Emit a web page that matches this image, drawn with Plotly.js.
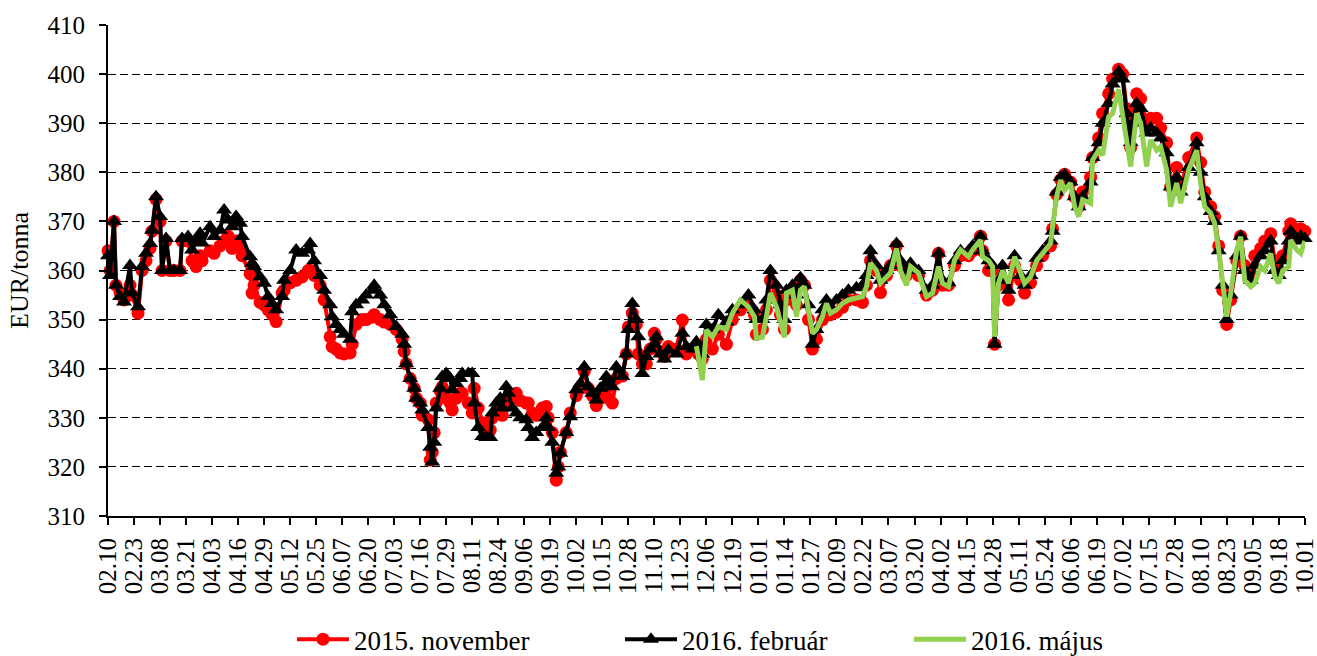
<!DOCTYPE html>
<html>
<head>
<meta charset="utf-8">
<script src="https://cdn.plot.ly/plotly-3.0.1.min.js"></script>
<style>html,body{margin:0;padding:0;background:#fff;}#chart{width:1317px;height:656px;}</style>
</head>
<body>
<div id="chart"></div>
<script>
// Start of the series (first trading day shown on the axis)
const startDate = '2014-02-10';

// Observation days, counted from startDate (shared by the 2015. november and 2016. február contracts)
const obsDays = [0,1,3,4,6,8,11,12,15,17,19,21,22,24,26,27,29,31,33,36,37,40,42,44,46,47,51,53,56,58,60,62,64,66,67,71,72,73,76,78,80,82,84,87,88,91,94,97,100,101,103,106,108,111,112,114,116,118,121,122,124,127,129,132,133,136,138,141,144,147,148,149,151,153,154,156,157,160,161,162,163,164,166,167,169,171,172,174,176,177,180,182,183,185,187,189,191,192,194,196,197,199,200,202,204,206,209,210,212,214,217,219,220,222,224,225,226,229,231,234,236,238,240,242,244,246,249,250,252,254,257,259,260,262,264,265,267,269,271,273,274,276,278,280,284,287,289,292,294,295,297,299,302,305,309,312,316,320,323,324,327,329,331,334,336,338,339,342,344,346,348,350,352,354,357,359,361,364,367,370,374,377,379,381,384,386,389,391,394,396,399,401,405,409,412,415,417,420,423,426,430,432,436,437,440,442,443,445,447,450,453,456,458,461,464,467,471,472,474,476,478,481,483,485,487,491,492,495,497,500,502,505,507,509,511,512,514,516,519,521,524,526,529,531,534,536,540,544,546,548,551,553,555,557,559,561,564,566,568,571,573,576,578,581,583,585,587,590,591,594,596,598];

// 2016. február contract (EUR/tonna)
const feb2016 = [363,359,370,357,354.7,353.6,361,355.4,352.6,360.8,363.5,365.5,368.2,375,371,360,366.5,360,360,360,366.5,366.9,364.2,366,367.6,365.6,368.9,366.9,368.2,372.3,370.3,368.9,371,369.6,366.9,362.8,361.5,360.8,358.7,357.4,354.7,353.3,352,354.7,358,360,364.2,363.5,364.2,365.5,362,359,356,353,350.6,349,348,347,346,351.6,353,354,355,356,357,355,353,351,348.6,347,345,341,338,336,334,333,331.6,328,324,321,325,332,336,338.4,339,338,335.7,337,338,339,339,339,333,328,326.2,326,326,331,333,334,332,336.4,335,332,331,330,329.6,328,326,327,328,330,328,325,318.7,320,322.8,327,330.2,335.7,337,340.4,336.3,335,333.6,336,338.4,337,336.3,340.4,338.4,343,348,353.3,350,346.5,339,342.5,344,345,346.5,343,342,343.8,343,347.2,344.5,344,345.5,344,343,349,348,351,349.5,352,353,355,352,350,350,354,360,357,353,350,356,357,355,358.5,357,353,345,348,352,354,352.5,354,355,356,356.5,357,359,364,361,358,360,361,365.5,362,360,361.5,360,356,357,363.5,358,357.5,362,364,364,365,367,364,362,361,345,358,361,356,363,359,357,359,362.5,364,366,368,376,379,379.5,378,375,373,375,378,383,386,390,394,398,400.5,399,392,386,390,394,393,388,389,388,387,384,377,379,376,381,386,380,375,372,370,364,357,350,355,363,367,360,358,361,363,364,366,360,359,362,366,368,366,367,366.5];

// 2015. november contract (EUR/tonna)
const nov2015 = [364,360,370,357,355.5,354,357,355,351.3,360,362,364.5,368,374.5,370,360,366,360,360,360,366,366,362,360.8,363,362,364,363.5,365,366,367,364.5,366,365,363,359.3,355.4,357,353.5,353,352,351,349.6,355.4,356,357.5,358,358.7,360,360,359,357,354,346.5,344.5,344,343.2,343,343.2,345,349,350,350,350.5,351,350,349.5,349,348,346,343.5,341,338,336,334,333,330.5,329.6,321.4,323,327,333,335.5,336.3,334,333,331.6,334,335,335,333,331,336,332,329,328,327.5,330,331,331,330.5,333,334,334,335,333.5,333,333,331,330.5,332,332.3,330,327,317.3,320,323,327,331,334.5,336,339.5,336,334.5,332.5,334,336,334,333,338,338.5,343,348.5,351.3,349,343,341,341,344,347.2,346,343.5,342.5,344.5,344,349.9,343,344,344,343,342,346,344,347,345,350,352,353,351,347,348,352,358,355,351,348,354,355,353,358,357,350,344,346,350,352,351,351.5,352.5,354,354,353.5,357,362,360,355.5,359,361,365,361,359,360,359,355,356,363.5,357,357,361,363,363,364,367,364,360,360,345,357,358,354,361,358,355.4,357.5,361,363,365,368.5,375.5,378.5,379.6,378,375,373,376,379,383,387,392,396,399,401,400,393,385,392,396,395,390,391,391,389,386,377,381,377,383,387,382,376,373,371,365,356,349,354,362,367,361,359.5,363,364.5,366,367.5,362,360,363,368,369.5,367,368.5,368];

// Observation days of the 2016. május contract, counted from startDate
const mayDays = [294,295,297,299,302,305,309,312,316,320,323,324,327,329,331,334,336,338,339,342,344,346,348,350,352,354,357,359,361,364,367,370,374,377,379,381,384,386,389,391,394,396,399,401,405,409,412,415,417,420,423,426,430,432,436,437,440,442,443,445,447,450,453,456,458,461,464,467,471,472,474,476,478,481,483,485,487,491,492,495,497,500,502,505,507,511,514,516,519,521,524,526,529,531,534,536,540,544,546,548,551,553,555,557,559,561,564,566,568,571,573,576,578,581,583,585,587,590,591,594,596,598];

// 2016. május contract (EUR/tonna)
const may2016 = [344.6,342,337.7,347.9,346.5,348.6,348,351.3,354,352.6,350.6,346.2,346.4,350.6,355.4,352.6,349.3,346.4,355.4,356,350.6,356,356.7,351.3,347.2,348,350.6,353.3,351.3,352,353.3,354,354.3,354.7,356.7,361.5,360,357.4,358.7,359.5,364.5,360,357,360.8,359.5,354.7,355.4,360.8,357.4,356.7,362.1,364.2,362.8,364.2,366.2,362.8,362,360.8,346.5,357.4,360,357.4,362.8,359.5,357.4,358.7,362,363.5,365.5,369,375,378.4,376.4,377.8,373,371,374.4,373.7,382.5,384.5,383.5,391.3,392,396.9,391.3,381.2,392,390,381.2,386.6,384.5,385.2,380.5,373,377.8,373.7,380.5,384.5,377.8,373,371.7,369.6,364.2,357.4,350.6,355.4,364.2,366.9,358,356.7,357.4,360.8,360,363.5,358.7,357.4,360,360.8,366.2,364.2,363.5,366];

// Axis tick labels (every 13 days from startDate)
const tickLabels = ['02.10','02.23','03.08','03.21','04.03','04.16','04.29','05.12','05.25','06.07','06.20','07.03','07.16','07.29','08.11','08.24','09.06','09.19','10.02','10.15','10.28','11.10','11.23','12.06','12.19','01.01','01.14','01.27','02.09','02.22','03.07','03.20','04.02','04.15','04.28','05.11','05.24','06.06','06.19','07.02','07.15','07.28','08.10','08.23','09.05','09.18','10.01'];
const tickStepDays = 13;

const seriesNames = ['2015. november', '2016. február', '2016. május'];

function dayToDate(d) {
  const p = startDate.split('-').map(Number);
  const t = Date.UTC(p[0], p[1] - 1, p[2]) + d * 86400000;
  return new Date(t).toISOString().slice(0, 10);
}

const obsDates = obsDays.map(dayToDate);
const mayDates = mayDays.map(dayToDate);
const tickVals = tickLabels.map((_, i) => dayToDate(i * tickStepDays));
const endDate = dayToDate((tickLabels.length - 1) * tickStepDays);

const FONT = 'Liberation Serif, Times New Roman, serif';

const traces = [
  {
    x: obsDates, y: nov2015, name: seriesNames[0], type: 'scatter', mode: 'lines+markers',
    line: {color: '#FF0000', width: 4},
    marker: {symbol: 'circle', size: 13, color: '#FF0000'},
    cliponaxis: false, legend: 'legend'
  },
  {
    x: obsDates, y: feb2016, name: seriesNames[1], type: 'scatter', mode: 'lines+markers',
    line: {color: '#000000', width: 4},
    marker: {symbol: 'triangle-up', size: 14, color: '#000000'},
    cliponaxis: false, legend: 'legend2'
  },
  {
    x: mayDates, y: may2016, name: seriesNames[2], type: 'scatter', mode: 'lines',
    line: {color: '#92D050', width: 5},
    legend: 'legend3'
  }
];

const legendBase = {
  orientation: 'h', yref: 'container', yanchor: 'middle', xanchor: 'left', y: 0.025,
  font: {family: FONT, size: 27, color: '#000'}, bgcolor: 'rgba(0,0,0,0)',
  itemwidth: 52, borderwidth: 0
};

const layout = {
  width: 1317, height: 656,
  margin: {l: 108, r: 12, t: 25, b: 140},
  paper_bgcolor: '#ffffff', plot_bgcolor: '#ffffff',
  font: {family: FONT, size: 25, color: '#000'},
  showlegend: true,
  xaxis: {
    type: 'date', range: [startDate, endDate + ' 03:00'], automargin: false,
    tickmode: 'array', tickvals: tickVals, ticktext: tickLabels,
    tickangle: -90, tickfont: {family: FONT, size: 25, color: '#000'},
    ticklabeloverflow: 'allow', ticklabelstandoff: 3,
    ticks: 'outside', ticklen: 7, tickwidth: 2, tickcolor: '#000',
    showline: true, linecolor: '#000', linewidth: 2,
    showgrid: false, zeroline: false, fixedrange: true
  },
  yaxis: {
    range: [310, 410], tick0: 310, dtick: 10, automargin: false,
    tickfont: {family: FONT, size: 25, color: '#000'},
    ticks: 'outside', ticklen: 7, tickwidth: 2, tickcolor: '#000',
    ticklabelstandoff: 9,
    showline: true, linecolor: '#000', linewidth: 2,
    showgrid: true, gridcolor: '#000', gridwidth: 1, griddash: '8px,4px',
    zeroline: false, fixedrange: true,
    title: {text: 'EUR/tonna', font: {family: FONT, size: 26, color: '#000'}, standoff: 11}
  },
  legend: Object.assign({}, legendBase, {x: (292 - 108) / 1197}),
  legend2: Object.assign({}, legendBase, {x: (620 - 108) / 1197}),
  legend3: Object.assign({}, legendBase, {x: (909 - 108) / 1197})
};

Plotly.newPlot('chart', traces, layout, {displayModeBar: false, staticPlot: true});
</script>
</body>
</html>
